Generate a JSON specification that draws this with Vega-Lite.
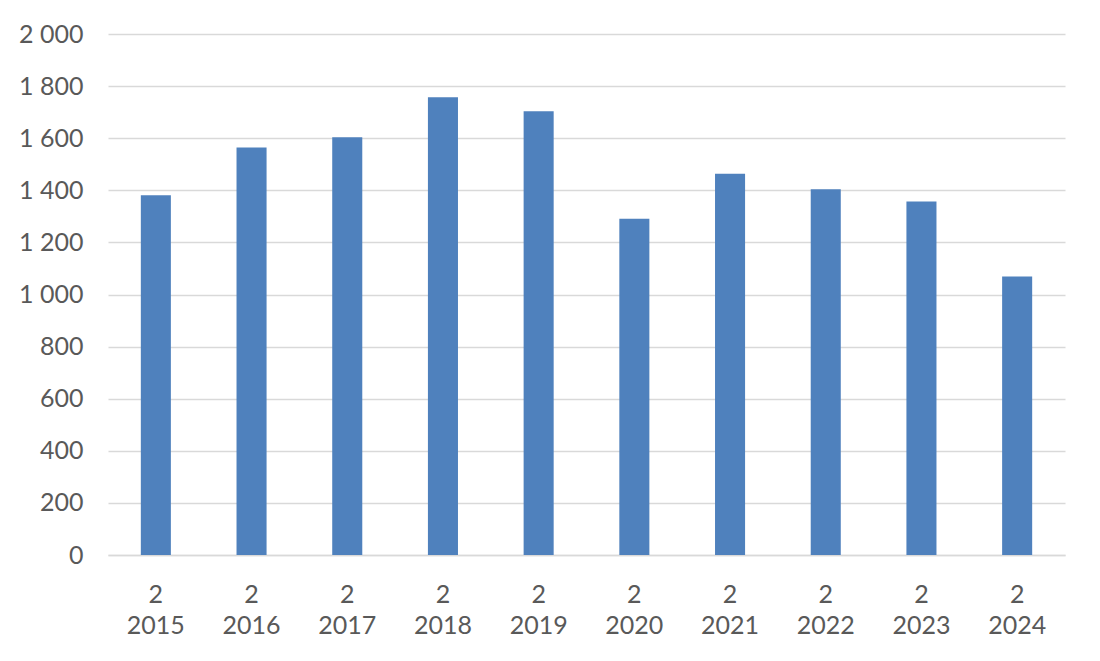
{
  "$schema": "https://vega.github.io/schema/vega-lite/v6.json",
  "autosize": {"type": "none"},
  "width": 957,
  "height": 521,
  "padding": {"left": 108, "top": 34, "right": 35, "bottom": 106},
  "background": "#ffffff",
  "data": {
    "values": [
      {"year": "2015", "value": 1381},
      {"year": "2016", "value": 1564},
      {"year": "2017", "value": 1604},
      {"year": "2018", "value": 1757},
      {"year": "2019", "value": 1703},
      {"year": "2020", "value": 1291},
      {"year": "2021", "value": 1464},
      {"year": "2022", "value": 1404},
      {"year": "2023", "value": 1357},
      {"year": "2024", "value": 1069}
    ]
  },
  "mark": {"type": "bar", "color": "#4f81bd"},
  "encoding": {
    "x": {
      "field": "year",
      "type": "nominal",
      "scale": {"paddingInner": 0.686, "paddingOuter": 0.343},
      "axis": {
        "title": null,
        "labelAngle": 0,
        "labelExpr": "['2', datum.label]",
        "labelFont": "Lato",
        "labelFontSize": 25,
        "labelColor": "#595959",
        "labelPadding": 27,
        "labelLineHeight": 31,
        "labelBaseline": "top",
        "ticks": false,
        "domainColor": "#d9d9d9",
        "domainWidth": 1.5
      }
    },
    "y": {
      "field": "value",
      "type": "quantitative",
      "scale": {"domain": [0, 2000], "nice": false},
      "axis": {
        "title": null,
        "values": [0, 200, 400, 600, 800, 1000, 1200, 1400, 1600, 1800, 2000],
        "labelExpr": "replace(format(datum.value, ',d'), ',', ' ')",
        "labelFont": "Lato",
        "labelFontSize": 25,
        "labelColor": "#595959",
        "labelPadding": 25,
        "ticks": false,
        "domain": false,
        "gridColor": "#d9d9d9",
        "gridWidth": 1.5
      }
    }
  },
  "config": {"view": {"stroke": null}}
}
